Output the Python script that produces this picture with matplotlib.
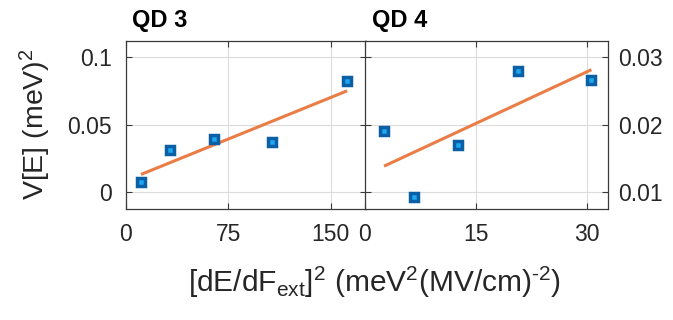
import matplotlib
matplotlib.use("Agg")
import matplotlib.pyplot as plt
import numpy as np

plt.rcParams['font.family'] = ['Liberation Sans', 'DejaVu Sans']
plt.rcParams['mathtext.fontset'] = 'custom'
plt.rcParams['mathtext.rm'] = 'Liberation Sans'
plt.rcParams['mathtext.it'] = 'Liberation Sans:italic'

# QD 3 data
qd3_x = [11.2, 32.4, 64.6, 107.3, 161.9]
qd3_y = [0.0078, 0.0314, 0.0398, 0.0369, 0.0823]

# QD 4 data
qd4_x = [2.6, 6.6, 12.55, 20.7, 30.6]
qd4_y = [0.0191, 0.0093, 0.0170, 0.0279, 0.0267]

titles = ["QD 3", "QD 4"]
xticks = [[0, 75, 150], [0, 15, 30]]
yticks = [[0, 0.05, 0.1], [0.01, 0.02, 0.03]]
yticklabels = [["0", "0.05", "0.1"], ["0.01", "0.02", "0.03"]]
xlims = [(0, 175.5), (0, 32.9)]
ylims = [(-0.0124, 0.1124), (0.00753, 0.03247)]

MARK_EDGE = '#0a5fa5'
MARK_FACE = '#1ca8f2'
FIT_COLOR = '#ea7d46'

fig = plt.figure(figsize=(6.73, 3.2), dpi=100)
ax1 = fig.add_axes([0.1868, 0.347, 0.3566, 0.526])
ax2 = fig.add_axes([0.5420, 0.347, 0.3620, 0.526])

for i, (ax, xs, ys) in enumerate([(ax1, qd3_x, qd3_y), (ax2, qd4_x, qd4_y)]):
    xs = np.array(xs)
    ys = np.array(ys)
    # least squares fit line
    p = np.polyfit(xs, ys, 1)
    xf = np.array([xs.min(), xs.max()])
    ax.plot(xf, np.polyval(p, xf), color=FIT_COLOR, lw=2.2, zorder=2,
            solid_capstyle='butt')
    ax.plot(xs, ys, 's', ms=5.6, mew=2.5, mec=MARK_EDGE, mfc=MARK_FACE,
            zorder=3, ls='none')

    ax.set_xlim(*xlims[i])
    ax.set_ylim(*ylims[i])
    ax.set_xticks(xticks[i])
    ax.set_yticks(yticks[i])
    ax.set_yticklabels(yticklabels[i])
    ax.grid(True, color='#dcdcdc', lw=0.8)
    ax.set_axisbelow(True)
    for s in ax.spines.values():
        s.set_color('#3a3a3a')
        s.set_linewidth(0.9)
    ax.tick_params(direction='in', length=4, width=0.8, color='#3a3a3a',
                   labelsize=16.5, labelcolor='#262626',
                   top=True, bottom=True, left=True, right=True)
    ax.tick_params(axis='x', pad=10)
    ax.text(0.027 if i == 0 else 0.03, 1.083, titles[i], transform=ax.transAxes,
            fontsize=17, fontweight='bold', va='baseline', ha='left')

ax1.tick_params(axis='y', labelleft=True, labelright=False, pad=10)
ax2.tick_params(axis='y', labelleft=False, labelright=True, pad=7)

xlabel = (r'[dE/dF$_{\rm ext}$]$^2$ (meV$^2$(MV/cm)$^{\rm ' + '\u2010'
          + r'2}$)')
fig.text(0.052, 0.6125, r'V[E] (meV)$^2$', rotation=90, ha='center',
         va='center', fontsize=20.5, color='#262626')
fig.text(0.556, 0.0885, xlabel,
         ha='center', va='baseline', fontsize=21.5, color='#262626')

fig.savefig('out.png', dpi=100)
